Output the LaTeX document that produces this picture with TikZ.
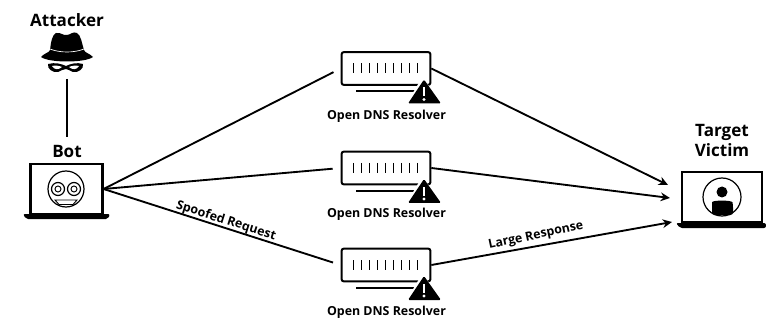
\documentclass[tikz,border=0pt]{standalone}
\usepackage{fontspec}
\setmainfont{Open Sans}
\usetikzlibrary{arrows.meta}
\begin{document}
\begin{tikzpicture}[
    x=0.75pt, y=-0.75pt,
    title/.style={font=\fontsize{12.8}{15}\selectfont\bfseries, align=center, inner sep=0pt},
    caption/.style={font=\fontsize{9.3}{11}\selectfont\bfseries, inner sep=0pt},
    tag/.style={font=\fontsize{9.3}{11}\selectfont\bfseries, inner sep=0pt},
    screen/.style={draw, line width=1.6pt, inner sep=0pt},
    rack/.style={draw, line width=1.5pt, rounded corners=1.5pt, minimum width=66.5pt, minimum height=24.5pt, inner sep=0pt},
    link/.style={line width=1.4pt},
    arr/.style={-{Stealth[length=7pt,width=6.5pt]}, line width=1.4pt},
    resolver/.pic={
      \foreach \i in {0,...,8} \draw[line width=0.75pt] (-33+8*\i,-5) -- ++(0,10);
      \draw[line width=1.5pt] (-30,23) -- (34,23);
      \fill[white] (36,9) -- (20,36) -- (58,36) -- cycle;
      \fill (38,11) [rounded corners=1pt] -- (22,35) -- (55,35) -- cycle;
      \fill[white] (36.8,19) rectangle (39.2,28);
      \fill[white] (38,31) circle (1.6);
    }
  ]
    \useasboundingbox (0,0) rectangle (766,320);

    % attacker
    \node[title] (attacker) at (67,20) {Attacker};
    \fill (41,57) .. controls (46,52) and (49,53) .. (50,50) .. controls (51,42) and (52,35) .. (56,33)
      .. controls (61,32) and (63,36) .. (67,35) .. controls (70,35) and (73,31) .. (77,33)
      .. controls (81,35) and (82,44) .. (84,50) .. controls (85,53) and (89,53) .. (93,57)
      .. controls (85,63) and (49,63) .. (41,57) -- cycle;
    \draw[white, line width=0.5pt] (50,49) .. controls (60,53) and (74,53) .. (84,49);
    \fill (48,64) .. controls (55,62) and (62,64) .. (66,66) .. controls (70,64) and (77,62) .. (83,64)
      .. controls (84,69) and (78,73) .. (73,72) .. controls (70,71) and (68,69) .. (66,69)
      .. controls (63,69) and (61,71) .. (58,72) .. controls (53,73) and (47,69) .. (48,64) -- cycle;
    \fill[white] (52,66) .. controls (55,65) and (60,66) .. (62,67) .. controls (59,70) and (54,70) .. (52,66) -- cycle;
    \fill[white] (79,66) .. controls (76,65) and (71,66) .. (69,67) .. controls (72,70) and (77,70) .. (79,66) -- cycle;
    \coordinate (hat) at (67,79);

    % bot
    \node[title] (botlabel) at (67,151) {Bot};
    \node[screen, minimum width=54pt, minimum height=37.5pt] (bot) at (66.5,189) {};
    \fill[rounded corners=1.5pt] (23,214) -- (110,214) -- (108,219) -- (26,219) -- cycle;
    \draw[line width=0.9pt] (66,189) circle (18);
    \foreach \x in {58,74} {
      \draw[line width=0.9pt] (\x,189) circle (6.5);
      \draw[line width=0.7pt] (\x,189) circle (3);
    }
    \draw[line width=0.7pt] (55,200) -- (77,200) -- (73,204.5) -- (59,204.5) -- cycle;
    \draw[link, shorten >=6pt] (hat) -- (botlabel.north);

    % resolvers
    \node[rack] (res1) at (386,68.5) {};
    \node[rack] (res2) at (386,168) {};
    \node[rack] (res3) at (386,265) {};
    \pic at (res1) {resolver};
    \pic at (res2) {resolver};
    \pic at (res3) {resolver};
    \node[caption] (cap1) at (386.5,116) {Open DNS Resolver};
    \node[caption] (cap2) at (386.5,214) {Open DNS Resolver};
    \node[caption] (cap3) at (386.5,312) {Open DNS Resolver};

    % victim
    \node[title] (victimlabel) at (722,140) {Target\\Victim};
    \node[screen, minimum width=60pt, minimum height=38pt] (victim) at (722,197) {};
    \fill[rounded corners=1.5pt] (676,223) -- (766,223) -- (766,228) -- (680,228) -- cycle;
    \draw[line width=0.9pt] (722,197) circle (19);
    \fill (722,192) circle (5.5);
    \fill[rounded corners=2pt] (712,215) -- (712,205) .. controls (712,200) and (732,200) .. (733,205) -- (733,215) -- cycle;
    \coordinate (in1) at (668,185);
    \coordinate (in2) at (670,198);
    \coordinate (in3) at (672,222);

    % connectors
    \draw[link, shorten >=6pt] (bot.east) -- (res1.west);
    \draw[link, shorten >=6pt] (bot.east) -- (res2.west);
    \draw[link, shorten >=6pt] (bot.east) -- (res3.west);
    \draw[arr] (res1.east) -- (in1);
    \draw[arr] (res2.east) -- (in2);
    \draw[arr] (res3.east) -- (in3);
    \node[tag, rotate=-17.5] (spoofed) at (226,221) {Spoofed Request};
    \node[tag, rotate=12] (large) at (536,236) {Large Response};
\end{tikzpicture}
\end{document}
